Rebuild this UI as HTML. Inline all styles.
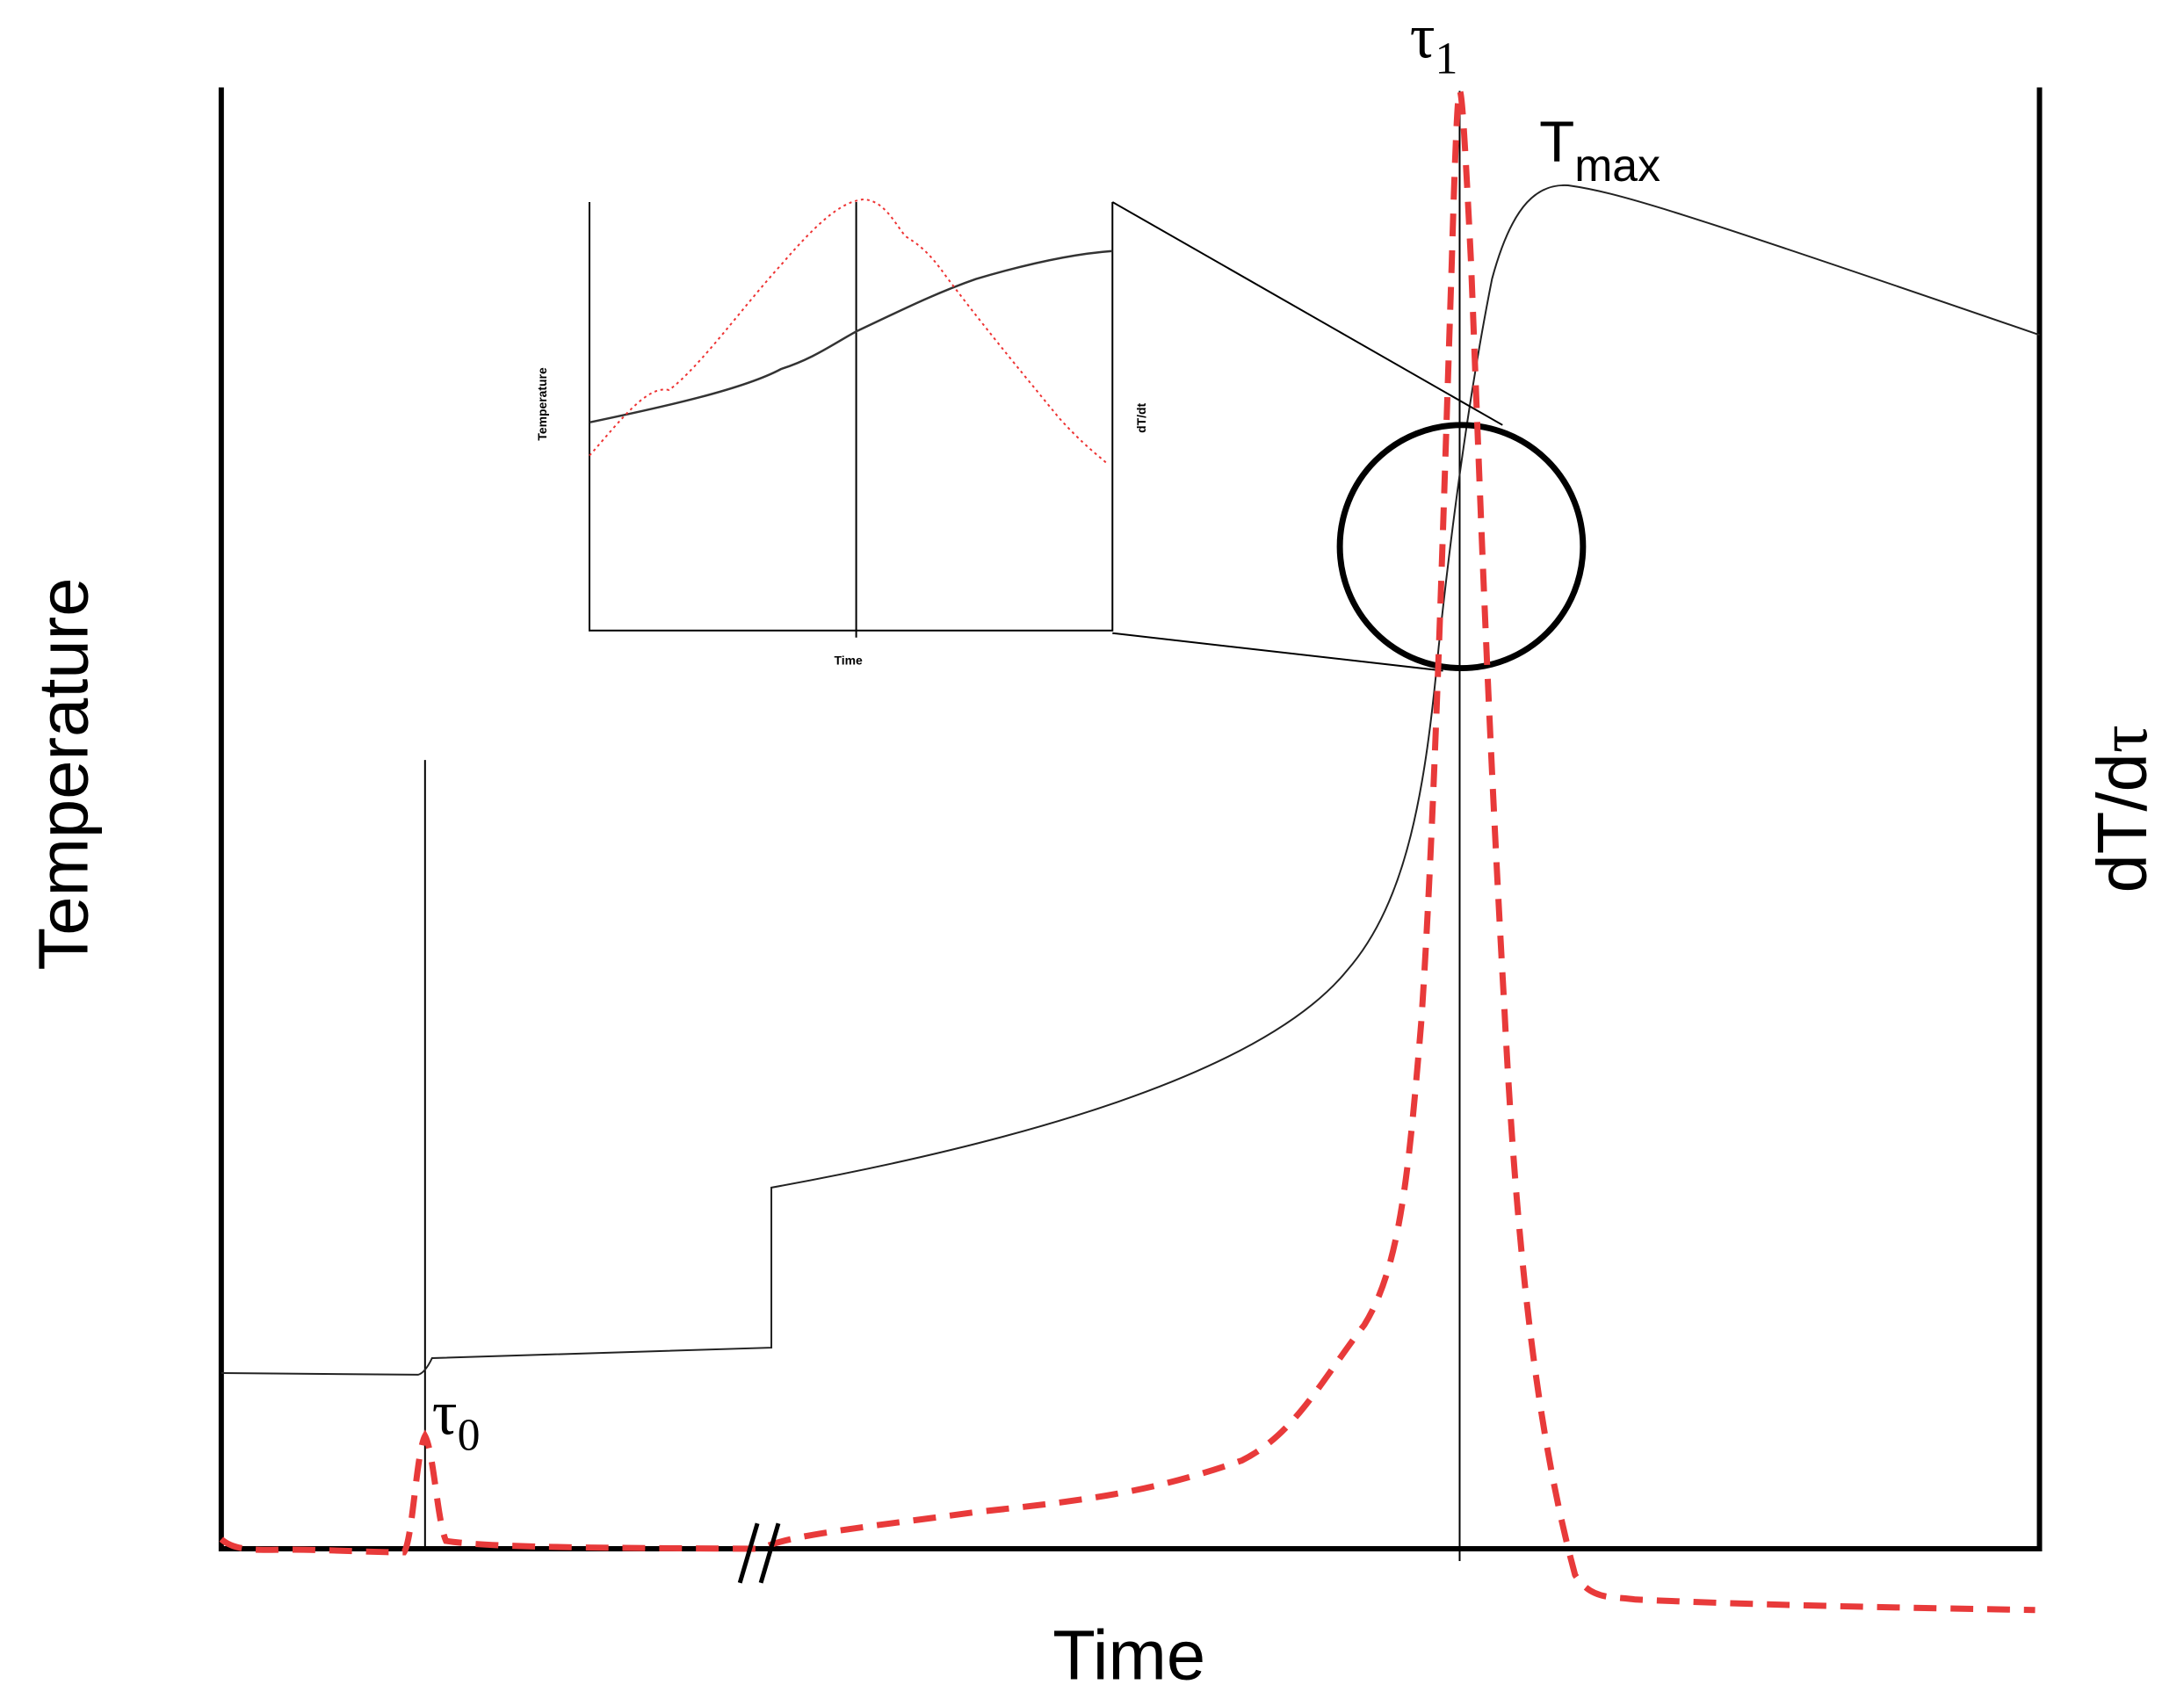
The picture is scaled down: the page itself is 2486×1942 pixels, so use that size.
<!DOCTYPE html>
<html><head><meta charset="utf-8"><style>html,body{margin:0;padding:0;background:#fff}svg{display:block}</style></head>
<body>
<svg width="2486" height="1942" viewBox="0 0 2486 1942" xmlns="http://www.w3.org/2000/svg">
<g transform="scale(0.9955)">
<g fill="none" stroke="#000">
<path d="M253,100 V1771 H2332 V100" stroke-width="6"/>
<line x1="1669" y1="104" x2="1669" y2="1785" stroke-width="2"/>
<line x1="486" y1="869" x2="486" y2="1771" stroke-width="2"/>
<path d="M253,1570 L478,1572 Q486,1570 494,1553 L882,1541 L882,1358 C1200,1300 1450,1220 1540,1110 C1610,1030 1630,900 1645,740 C1660,600 1680,450 1706,319 C1730,230 1760,210 1793,212 C1850,220 1913,239 2332,383" stroke="#222" stroke-width="2"/>
<circle cx="1671" cy="625" r="139" stroke-width="7"/>
<path d="M674,231 V721 H1272 V231" stroke-width="2"/>
<line x1="979" y1="231" x2="979" y2="729" stroke-width="2"/>
<line x1="1272" y1="231" x2="1718" y2="486" stroke-width="2"/>
<line x1="1272" y1="724" x2="1650" y2="767" stroke-width="2"/>
<path d="M674,483 C760,465 850,445 893,422 C930,410 950,395 979,379 C1030,355 1070,335 1116,319 C1180,300 1230,290 1272,287" stroke="#333" stroke-width="2.5"/>
<path d="M674,521 C710,480 740,440 765,446 C800,420 850,350 893,303 C930,260 960,230 988,228 C1010,230 1020,250 1035,270 C1060,285 1070,300 1084,319 C1130,380 1180,440 1211,478 C1240,510 1255,520 1267,531" stroke="#e33" stroke-width="2" stroke-dasharray="3,4"/>
<path d="M253,1760 C270,1775 300,1772 330,1772 C380,1772 420,1775 462,1775 C472,1760 476,1660 486,1642 C496,1660 500,1740 510,1762 C560,1770 700,1770 870,1771 C900,1755 1000,1745 1116,1729 C1250,1715 1320,1705 1420,1670 C1480,1640 1510,1580 1560,1515 C1600,1450 1610,1350 1625,1170 C1640,950 1650,600 1660,300 C1664,160 1667,104 1669,104 C1672,104 1676,180 1682,300 C1690,500 1700,800 1720,1150 C1735,1450 1760,1650 1801,1801 C1820,1830 1840,1825 1870,1829 C2000,1835 2150,1838 2327,1841" stroke="#e83a3a" stroke-width="7" stroke-dasharray="26,16"/>
<line x1="846" y1="1810" x2="866" y2="1742" stroke-width="5"/>
<line x1="870" y1="1810" x2="890" y2="1742" stroke-width="5"/>
</g>
<g font-family="Liberation Sans, sans-serif" fill="#000">
<text x="0" y="0" font-size="80" text-anchor="middle" transform="translate(100,885) rotate(-90)">Temperature</text>
<text x="0" y="0" font-size="80" text-anchor="middle" transform="translate(2454,925) rotate(-90)">dT/d<tspan font-family="Liberation Serif, serif">τ</tspan></text>
<text x="1291" y="1920" font-size="80" text-anchor="middle">Time</text>
<text x="1760" y="185" font-size="66">T<tspan font-size="52" dy="22">max</tspan></text>
<text x="1612" y="66" font-size="72" font-family="Liberation Serif, serif">τ<tspan font-size="52" dy="18">1</tspan></text>
<text x="494" y="1640" font-size="72" font-family="Liberation Serif, serif">τ<tspan font-size="52" dy="18">0</tspan></text>
<text x="0" y="0" font-size="14" font-weight="bold" text-anchor="middle" transform="translate(625,462) rotate(-90)">Temperature</text>
<text x="0" y="0" font-size="14" font-weight="bold" text-anchor="middle" transform="translate(1310,478) rotate(-90)">dT/dt</text>
<text x="970" y="760" font-size="14" font-weight="bold" text-anchor="middle">Time</text>
</g>
</g>
</svg>
</body></html>
